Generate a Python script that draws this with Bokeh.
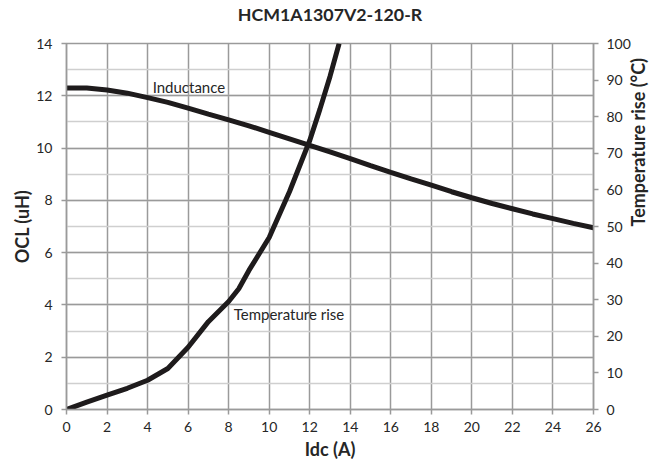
import math
from bokeh.plotting import figure
from bokeh.models import Range1d, LinearAxis, SingleIntervalTicker, FixedTicker, Label, Title
from bokeh.embed import file_html
from bokeh.resources import INLINE

title = "HCM1A1307V2-120-R"
idc_l = [0, 1, 2, 3, 4, 5, 6, 7, 8, 9, 10, 11, 12, 13, 14, 15, 16, 17, 18, 19, 20, 21, 22, 23, 24, 25, 26]
ocl = [12.3, 12.3, 12.22, 12.1, 11.93, 11.75, 11.53, 11.3, 11.08, 10.85, 10.6, 10.35, 10.1, 9.85, 9.6,
       9.33, 9.07, 8.82, 8.58, 8.33, 8.1, 7.88, 7.68, 7.48, 7.3, 7.12, 6.95]
idc_t = [0, 1, 2, 3, 4, 5, 6, 7, 8, 8.5, 9, 9.5, 10, 11, 12, 12.5, 13, 13.45]
temp = [0, 2, 3.9, 5.8, 8, 11.2, 17, 24, 29.5, 33, 38, 42.5, 47, 59.5, 73.5, 82, 91, 100]
x_ticks = list(range(0, 27, 2))
left_ticks = list(range(0, 15, 2))
right_ticks = list(range(0, 101, 10))
x_title = "Idc (A)"
left_title = "OCL (uH)"
right_title = "Temperature rise (\u00b0C)"

FONT = "Lato"
TXT = "#262626"
GRID = "#9a9a9a"

p = figure(width=662, height=462, output_backend="svg", toolbar_location=None,
           x_range=Range1d(0, 26), y_range=Range1d(0, 14),
           min_border_left=66, min_border_right=69, min_border_top=43, min_border_bottom=52)
p.extra_y_ranges = {"temp": Range1d(0, 100)}

p.title.text = title
p.title.align = "center"
p.title.text_font = FONT
p.title.text_font_size = "17.8px"
p.title.text_font_style = "bold"
p.title.text_color = TXT
p.title.offset = 0
p.title.standoff = 0
p.title.vertical_align = "top"

# empty spacer panel between the title and the plot frame
p.add_layout(Title(text=" ", text_font_size="13px", standoff=0), "above")

p.outline_line_color = GRID
p.outline_line_width = 1.5


def style(ax, std, lstd):
    ax.axis_line_color = GRID
    ax.axis_line_width = 1.5
    ax.major_tick_line_color = GRID
    ax.major_tick_line_width = 1.5
    ax.major_tick_out = 5
    ax.major_tick_in = 0
    ax.minor_tick_line_color = None
    ax.major_label_text_font = FONT
    ax.major_label_text_font_size = "14px"
    ax.major_label_text_color = TXT
    ax.major_label_standoff = std
    ax.axis_label_text_font = FONT
    ax.axis_label_text_font_size = "18px"
    ax.axis_label_text_font_style = "bold"
    ax.axis_label_text_color = TXT
    ax.axis_label_standoff = lstd


p.xaxis.ticker = FixedTicker(ticks=x_ticks)
p.yaxis.ticker = SingleIntervalTicker(interval=2, num_minor_ticks=2)
style(p.xaxis[0], 7, 3)
style(p.yaxis[0], 9, 0)
p.xaxis.axis_label = x_title
p.yaxis.axis_label = left_title

ra = LinearAxis(y_range_name="temp", ticker=FixedTicker(ticks=right_ticks), axis_label=right_title)
style(ra, 8, 4)
ra.axis_label_orientation = math.pi / 2
p.add_layout(ra, "right")

p.xgrid.grid_line_color = GRID
p.xgrid.grid_line_width = 1.5
p.ygrid.grid_line_color = GRID
p.ygrid.grid_line_width = 1.5
p.ygrid.minor_grid_line_color = "#cfcfcf"
p.ygrid.minor_grid_line_width = 1.5

p.line(idc_l, ocl, line_color="#1e1b1c", line_width=5)
p.line(idc_t, temp, y_range_name="temp", line_color="#1e1b1c", line_width=5)

p.add_layout(Label(x=4.25, y=12.35, text="Inductance", text_font=FONT, text_font_size="15px",
                   text_color=TXT, text_baseline="middle", text_align="left"))
p.add_layout(Label(x=8.25, y=3.66, text="Temperature rise", text_font=FONT, text_font_size="15px",
                   text_color=TXT, text_baseline="middle", text_align="left"))

open("out.html", "w").write(file_html(p, INLINE))
